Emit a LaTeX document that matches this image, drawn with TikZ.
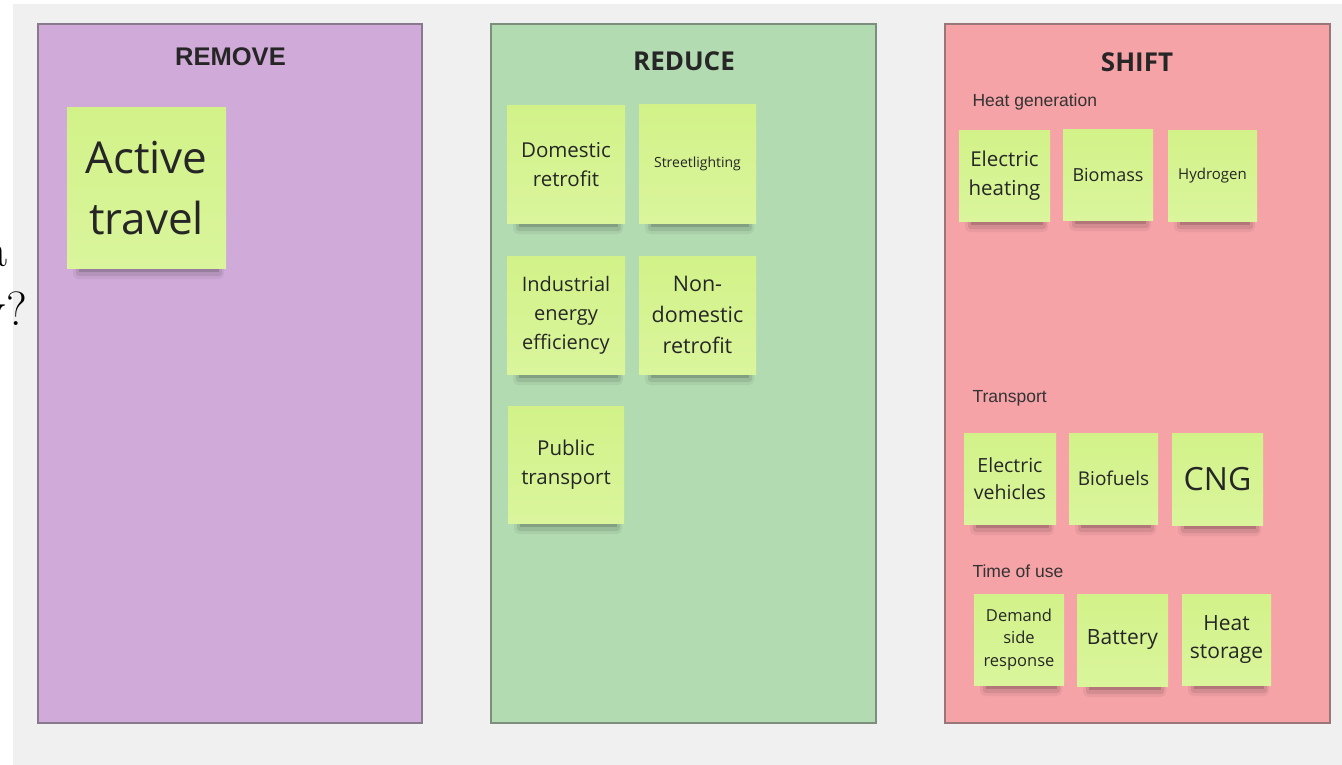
\documentclass[tikz,border=0pt]{standalone}
\usepackage{fontspec}
\setmainfont{Latin Modern Roman}
\newfontfamily\osans{Open Sans}
\newfontfamily\lsans{Liberation Sans}
\definecolor{bggray}{HTML}{F0F0F0}
\definecolor{cpurple}{HTML}{D0ABD9}
\definecolor{cgreen}{HTML}{B3DBB2}
\definecolor{cpink}{HTML}{F6A3A8}
\definecolor{stickytop}{HTML}{D2F289}
\definecolor{stickybot}{HTML}{DAF59C}
\definecolor{inktext}{HTML}{262626}
\definecolor{subtext}{HTML}{333333}
\tikzset{
  panelbox/.style={fill=#1, draw=#1!55!gray!80!black, line width=1.1pt},
  stickybox/.style={shading=axis, top color=stickytop, bottom color=stickybot,
    draw=none, inner sep=0pt, outer sep=0pt, align=center, text=inktext},
  paneltitle/.style={anchor=base, text=inktext},
  subhead/.style={anchor=base west, text=subtext, font=\lsans\fontsize{17.5}{21}\selectfont},
}
\newcommand{\stickynote}[8]{%
  \fill[black,opacity=.05,rounded corners=5] (#2+6,#5-3) rectangle (#4-2,#5+11);
  \fill[black,opacity=.09,rounded corners=3] (#2+9,#5-3) rectangle (#4-4,#5+8);
  \fill[black,opacity=.15] (#2+12,#5-3) rectangle (#4-7,#5+4);
  \node[stickybox, anchor=north west, minimum width={(#4-#2)*1pt}, minimum height={(#5-#3)*1pt},
    font=\osans\fontsize{#6}{#7}\selectfont] (#1) at (#2,#3) {#8};
}
\begin{document}
\begin{tikzpicture}[x=1pt,y=-1pt]
\useasboundingbox (0,0) rectangle (1342,765);
\fill[white] (0,0) rectangle (1342,765);
\fill[bggray] (13,4) rectangle (1342,765);
% cut-off text at the left edge (as in the reference)
\node[anchor=base east, inner sep=0pt, font=\fontsize{50}{58}\selectfont] (cuta) at (8,266) {a};
\node[anchor=base east, inner sep=0pt, font=\fontsize{48}{58}\selectfont] (cutq) at (27,325) {y?};
% panels
\path[panelbox=cpurple] (38,24) rectangle (422,723);
\path[panelbox=cgreen] (491,24) rectangle (876,723);
\path[panelbox=cpink] (945,24) rectangle (1330,723);
% titles
\node[paneltitle, font=\lsans\bfseries\fontsize{25.5}{28}\selectfont] (tremove) at (230.5,66) {REMOVE};
\node[paneltitle, font=\osans\bfseries\fontsize{26}{30}\selectfont] (treduce) at (684,71) {REDUCE};
\node[paneltitle, font=\osans\bfseries\fontsize{26}{30}\selectfont] (tshift) at (1137,72) {SHIFT};
% subheaders
\node[subhead] (hheat) at (969,107) {Heat generation};
\node[subhead] (htrans) at (969,402) {Transport};
\node[subhead] (htime) at (969,577) {Time of use};
% REMOVE
\stickynote{active}{67}{108}{226}{268}{44}{61}{Active\\travel}
% REDUCE
\stickynote{dom}{507}{106}{625}{223}{20.5}{28.5}{Domestic\\retrofit}
\stickynote{street}{639}{105}{756}{223}{14}{18}{Streetlighting}
\stickynote{ind}{507}{256}{625}{374}{20}{29}{Industrial\\energy\\efficiency}
\stickynote{nondom}{639}{256}{756}{374}{21.5}{31}{Non-\\domestic\\retrofit}
\stickynote{pub}{508}{406}{624}{523}{20.5}{29}{Public\\transport}
% SHIFT
\stickynote{eh}{959}{131}{1050}{221}{20.5}{29}{Electric\\heating}
\stickynote{bio}{1063}{130}{1153}{220}{18}{24}{Biomass}
\stickynote{hyd}{1168}{131}{1257}{221}{15}{20}{Hydrogen}
\stickynote{ev}{964}{433}{1056}{524}{19.5}{27}{Electric\\vehicles}
\stickynote{biof}{1069}{433}{1158}{524}{19}{24}{Biofuels}
\stickynote{cng}{1172}{433}{1263}{525}{32}{40}{CNG}
\stickynote{dsr}{974}{594}{1064}{685}{16.5}{22.5}{Demand\\side\\response}
\stickynote{bat}{1077}{594}{1168}{686}{21}{28}{Battery}
\stickynote{hs}{1182}{594}{1271}{685}{21}{28.5}{Heat\\storage}
\end{tikzpicture}
\end{document}
